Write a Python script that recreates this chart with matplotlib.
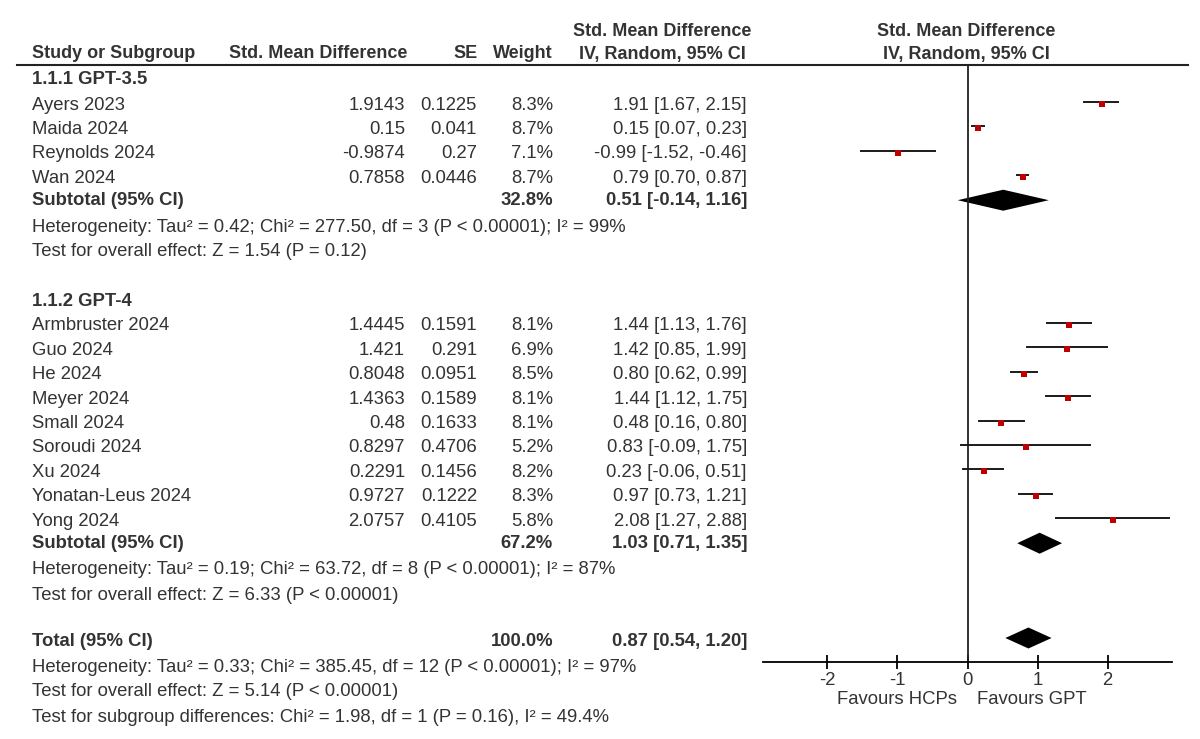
#!/usr/bin/env python3

import matplotlib.pyplot as plt

plt.rcParams['font.family'] = ['Liberation Sans', 'DejaVu Sans']

# GPT-3.5 studies
names_35 = ['Ayers 2023', 'Maida 2024', 'Reynolds 2024', 'Wan 2024']
smd_35 = [1.9143, 0.15, -0.9874, 0.7858]
se_35 = [0.1225, 0.041, 0.27, 0.0446]
w_35 = [8.3, 8.7, 7.1, 8.7]
lo_35 = [1.67, 0.07, -1.52, 0.70]
hi_35 = [2.15, 0.23, -0.46, 0.87]

# GPT-4 studies
names_4 = ['Armbruster 2024', 'Guo 2024', 'He 2024', 'Meyer 2024', 'Small 2024',
           'Soroudi 2024', 'Xu 2024', 'Yonatan-Leus 2024', 'Yong 2024']
smd_4 = [1.4445, 1.421, 0.8048, 1.4363, 0.48, 0.8297, 0.2291, 0.9727, 2.0757]
se_4 = [0.1591, 0.291, 0.0951, 0.1589, 0.1633, 0.4706, 0.1456, 0.1222, 0.4105]
w_4 = [8.1, 6.9, 8.5, 8.1, 8.1, 5.2, 8.2, 8.3, 5.8]
lo_4 = [1.13, 0.85, 0.62, 1.12, 0.16, -0.09, -0.06, 0.73, 1.27]
hi_4 = [1.76, 1.99, 0.99, 1.75, 0.80, 1.75, 0.51, 1.21, 2.88]

# pooled results: weight, estimate, lower, upper
sub_35 = (32.8, 0.51, -0.14, 1.16)
sub_4 = (67.2, 1.03, 0.71, 1.35)
total = (100.0, 0.87, 0.54, 1.20)

het_35 = 'Heterogeneity: Tau² = 0.42; Chi² = 277.50, df = 3 (P < 0.00001); I² = 99%'
eff_35 = 'Test for overall effect: Z = 1.54 (P = 0.12)'
het_4 = 'Heterogeneity: Tau² = 0.19; Chi² = 63.72, df = 8 (P < 0.00001); I² = 87%'
eff_4 = 'Test for overall effect: Z = 6.33 (P < 0.00001)'
het_t = 'Heterogeneity: Tau² = 0.33; Chi² = 385.45, df = 12 (P < 0.00001); I² = 97%'
eff_t = 'Test for overall effect: Z = 5.14 (P < 0.00001)'
sub_diff = 'Test for subgroup differences: Chi² = 1.98, df = 1 (P = 0.16), I² = 49.4%'

ticks = [-2, -1, 0, 1, 2]

TXT = '#333333'
RED = '#c00000'
FS = 13.3
STEP = 24.4

fig = plt.figure(figsize=(12, 7.39), dpi=100)
ax = fig.add_axes([0, 0, 1, 1])
ax.set_xlim(0, 1200)
ax.set_ylim(739, 0)
ax.axis('off')

# forest panel shares the pixel-based y scale of the table
y_top, y_axis = 65, 662
x_l, x_r = 763, 1172
fa = fig.add_axes([x_l / 1200, 1 - y_axis / 739, (x_r - x_l) / 1200, (y_axis - y_top) / 739])
fa.set_xlim(-2.92, 2.92)
fa.set_ylim(y_axis, y_top)
fa.patch.set_alpha(0)
for s in ['top', 'left', 'right']:
    fa.spines[s].set_visible(False)
fa.spines['bottom'].set_linewidth(1.3)
fa.set_yticks([])
fa.set_xticks(ticks)
fa.set_xticklabels([str(t) for t in ticks])
fa.tick_params(axis='x', direction='inout', length=10, width=1.3, labelsize=FS, labelcolor=TXT, pad=2)
fa.axvline(0, color='#222222', lw=1.3)

def t(x, y, s, ha='left', bold=False, fs=FS):
    ax.text(x, y, s, ha=ha, va='center', fontsize=fs, color=TXT,
            fontweight='bold' if bold else 'normal')

# headers
HFS = 13.0
t(662, 31, 'Std. Mean Difference', ha='center', bold=True, fs=HFS)
t(966, 31, 'Std. Mean Difference', ha='center', bold=True, fs=HFS)
t(32, 54, 'Study or Subgroup', bold=True, fs=HFS)
t(407, 54, 'Std. Mean Difference', ha='right', bold=True, fs=HFS)
t(478, 54, 'SE', ha='right', bold=True, fs=HFS)
t(553, 54, 'Weight', ha='right', bold=True, fs=HFS)
t(662, 54, 'IV, Random, 95% CI', ha='center', bold=True, fs=HFS)
t(966, 54, 'IV, Random, 95% CI', ha='center', bold=True, fs=HFS)
ax.plot([17, 1188], [65, 65], color='#222222', lw=1.5)

def study_rows(y0, names, smd, se, w, lo, hi):
    for i in range(len(names)):
        y = y0 + i * STEP
        t(32, y, names[i])
        t(405, y, str(smd[i]), ha='right')
        t(477, y, str(se[i]), ha='right')
        t(553, y, f'{w[i]:.1f}%', ha='right')
        t(747, y, f'{smd[i]:.2f} [{lo[i]:.2f}, {hi[i]:.2f}]', ha='right')
        fa.plot([lo[i], hi[i]], [y - 3, y - 3], color='#1a1a1a', lw=1.4)
        fa.plot(smd[i], y - 1, marker='s', ms=4.4 + (w[i] - 5) * 0.15,
                color=RED, mew=0)
    return y0 + (len(names) - 1) * STEP

def pooled_row(y, label, res, dy=0):
    wt, est, lo, hi = res
    t(32, y, label, bold=True)
    t(553, y, f'{wt:.1f}%', ha='right', bold=True)
    t(747, y, f'{est:.2f} [{lo:.2f}, {hi:.2f}]', ha='right', bold=True)
    yc = y + dy
    fa.fill([lo, est, hi, est], [yc, yc - 10.5, yc, yc + 10.5], color='black', lw=0)

# subgroup 1.1.1
t(32, 80, '1.1.1 GPT-3.5', bold=True)
y_last = study_rows(105, names_35, smd_35, se_35, w_35, lo_35, hi_35)
pooled_row(y_last + 22, 'Subtotal (95% CI)', sub_35)
t(32, 227, het_35)
t(32, 252, eff_35)

# subgroup 1.1.2
t(32, 301, '1.1.2 GPT-4', bold=True)
y_last = study_rows(326, names_4, smd_4, se_4, w_4, lo_4, hi_4)
pooled_row(y_last + 22, 'Subtotal (95% CI)', sub_4)
t(32, 570, het_4)
t(32, 595, eff_4)

# overall
pooled_row(642, 'Total (95% CI)', total, dy=-4)
t(32, 668, het_t)
t(32, 692, eff_t)
t(32, 717, sub_diff)

# favours labels under the axis
fa.text(-0.15, 700, 'Favours HCPs', ha='right', va='center', fontsize=FS, color=TXT,
        transform=fa.transData, clip_on=False)
fa.text(0.13, 700, 'Favours GPT', ha='left', va='center', fontsize=FS, color=TXT,
        transform=fa.transData, clip_on=False)

plt.savefig('out.png', dpi=100)
